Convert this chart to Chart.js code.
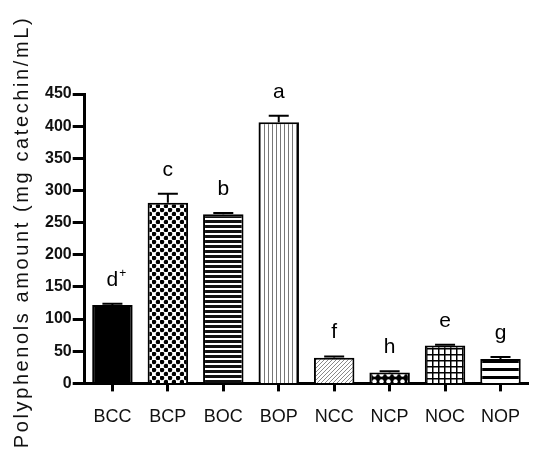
<!DOCTYPE html>
<html>
<head>
<meta charset="utf-8">
<script src="https://cdn.jsdelivr.net/npm/chart.js@4/dist/chart.umd.min.js"></script>
<style>
    html, body { margin: 0; padding: 0; background: #fff; }
    #wrap { width: 535px; height: 459px; position: relative; }
</style>
</head>
<body>
<div id="wrap"><canvas id="chart"></canvas></div>
<script>
const categories = ["BCC", "BCP", "BOC", "BOP", "NCC", "NCP", "NOC", "NOP"];
const amounts = [122, 281, 263, 406, 40, 17, 59, 38];
const errors = [2, 14, 2, 10, 2, 2, 1, 3];
const letters = ["d", "c", "b", "a", "f", "h", "e", "g"];
const supers = ["+", "", "", "", "", "", "", ""];
const yTicks = [0, 50, 100, 150, 200, 250, 300, 350, 400, 450];
const yTitle = "Polyphenols amount (mg catechin/mL)";

function makePattern(w, h, draw) {
    const c = document.createElement("canvas");
    c.width = w;
    c.height = h;
    const g = c.getContext("2d");
    g.fillStyle = "#fff";
    g.fillRect(0, 0, w, h);
    draw(g);
    return document.createElement("canvas").getContext("2d").createPattern(c, "repeat");
}

const fills = [
    "#000",
    // checkerboard of dots
    makePattern(8, 8, (g) => {
        g.fillStyle = "#000";
        g.beginPath();
        g.arc(2, 2, 2.3, 0, Math.PI * 2);
        g.arc(6, 6, 2.3, 0, Math.PI * 2);
        g.fill();
    }),
    // horizontal stripes
    makePattern(5, 5, (g) => {
        g.fillStyle = "#111";
        g.fillRect(0, 0, 5, 3);
    }),
    // vertical lines
    makePattern(4, 4, (g) => {
        g.fillStyle = "#777";
        g.fillRect(0, 0, 1, 4);
    }),
    // diagonal hatch
    makePattern(4, 4, (g) => {
        g.fillStyle = "#888";
        g.fillRect(3, 0, 1, 1);
        g.fillRect(2, 1, 1, 1);
        g.fillRect(1, 2, 1, 1);
        g.fillRect(0, 3, 1, 1);
    }),
    // white dots on black
    makePattern(7, 7, (g) => {
        g.fillStyle = "#000";
        g.fillRect(0, 0, 7, 7);
        g.fillStyle = "#fff";
        g.beginPath();
        g.arc(3.5, 3.5, 2.2, 0, Math.PI * 2);
        g.fill();
    }),
    // grid
    makePattern(6, 6, (g) => {
        g.fillStyle = "#000";
        g.fillRect(0, 0, 6, 1.5);
        g.fillRect(0, 0, 1.5, 6);
    }),
    // wide bands
    makePattern(8, 8, (g) => {
        g.fillStyle = "#000";
        g.fillRect(0, 0, 8, 3);
    }),
];

const errorBars = {
    id: "errorBars",
    afterDatasetsDraw(chart) {
        const ctx = chart.ctx;
        const y = chart.scales.y;
        const meta = chart.getDatasetMeta(0);
        ctx.save();
        ctx.strokeStyle = "#000";
        ctx.lineWidth = 2;
        meta.data.forEach((bar, i) => {
            const top = y.getPixelForValue(amounts[i] + errors[i]);
            ctx.beginPath();
            ctx.moveTo(bar.x, bar.y);
            ctx.lineTo(bar.x, top);
            ctx.moveTo(bar.x - 10, top);
            ctx.lineTo(bar.x + 10, top);
            ctx.stroke();

            // significance letters
            ctx.fillStyle = "#000";
            ctx.font = "21px 'Liberation Sans', Arial, sans-serif";
            ctx.textAlign = "center";
            ctx.textBaseline = "alphabetic";
            const base = top - 18;
            ctx.fillText(letters[i], bar.x, base);
            if (supers[i]) {
                const w = ctx.measureText(letters[i]).width;
                ctx.font = "12px 'Liberation Sans', Arial, sans-serif";
                ctx.textAlign = "left";
                ctx.fillText(supers[i], bar.x + w / 2 + 1, base - 9);
            }
        });
        ctx.restore();
    },
};

const axisTitle = {
    id: "axisTitle",
    afterDraw(chart) {
        const ctx = chart.ctx;
        ctx.save();
        ctx.translate(22, 232);
        ctx.rotate(-Math.PI / 2);
        ctx.font = "20px 'Liberation Sans', Arial, sans-serif";
        ctx.letterSpacing = "2.6px";
        ctx.fillStyle = "#111";
        ctx.textAlign = "center";
        ctx.textBaseline = "middle";
        ctx.fillText(yTitle, 0, 0);
        ctx.restore();
    },
};

new Chart(document.getElementById("chart"), {
    type: "bar",
    data: {
        labels: categories,
        datasets: [
            {
                data: amounts,
                backgroundColor: fills,
                borderColor: "#000",
                borderWidth: 2,
                borderSkipped: "bottom",
                barPercentage: 0.73,
                categoryPercentage: 1,
            },
        ],
    },
    options: {
        responsive: true,
        maintainAspectRatio: false,
        animation: false,
        layout: { padding: { top: 94, left: 44, right: 0, bottom: 16 } },
        plugins: {
            legend: { display: false },
            tooltip: { enabled: false },
        },
        scales: {
            x: {
                grid: {
                    offset: false,
                    drawOnChartArea: false,
                    tickLength: 8,
                    tickWidth: 3,
                    tickColor: "#000",
                },
                border: { color: "#000", width: 3 },
                ticks: {
                    color: "#111",
                    padding: 15,
                    font: { family: "'Liberation Sans', Arial, sans-serif", size: 18 },
                },
            },
            y: {
                min: 0,
                max: 450,
                afterBuildTicks(scale) {
                    scale.ticks = yTicks.map((v) => ({ value: v }));
                },
                grid: {
                    drawOnChartArea: false,
                    tickLength: 12,
                    tickWidth: 3,
                    tickColor: "#000",
                },
                border: { color: "#000", width: 3 },
                ticks: {
                    color: "#111",
                    padding: 1,
                    font: { family: "'Liberation Sans', Arial, sans-serif", size: 16, weight: "bold" },
                },
            },
        },
    },
    plugins: [errorBars, axisTitle],
});
</script>
</body>
</html>
